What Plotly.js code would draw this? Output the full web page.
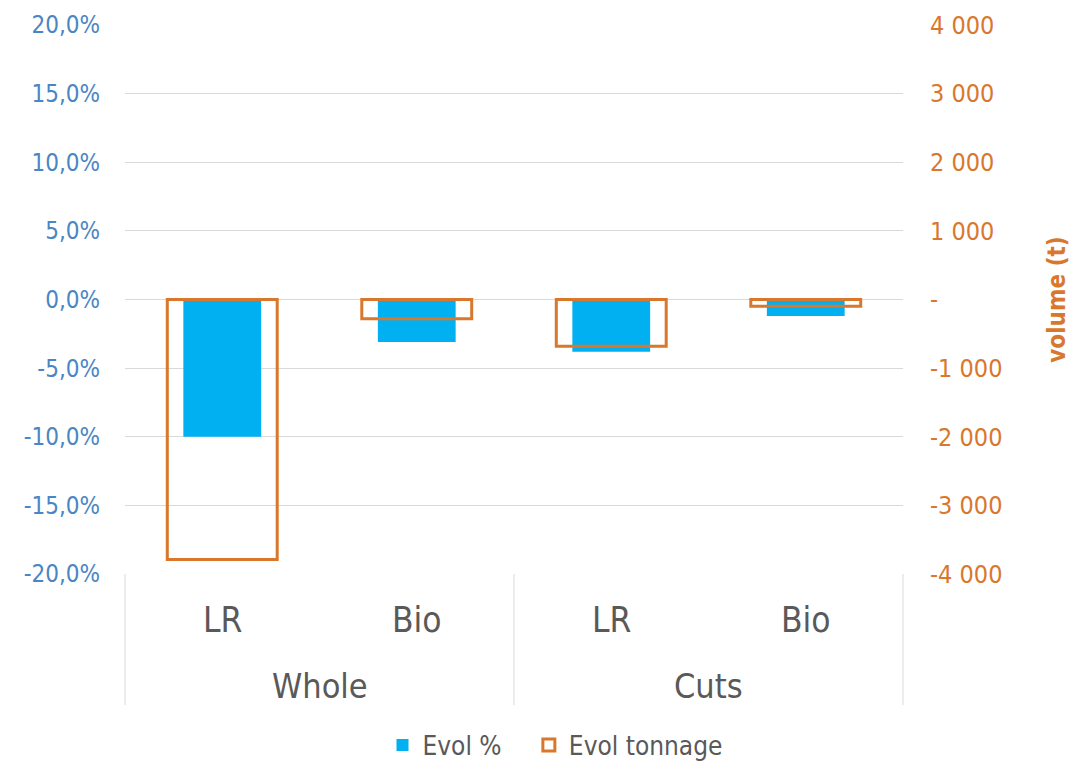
<!DOCTYPE html>
<html><head><meta charset="utf-8">
<script src="https://cdn.plot.ly/plotly-3.0.1.min.js"></script>
<style>html,body{margin:0;padding:0;background:#fff}#chart{width:1073px;height:761px}</style>
</head><body><div id="chart"></div>
<script>
const groups = ["Whole","Whole","Cuts","Cuts"];
const labels = ["LR","Bio","LR","Bio"];
const groupNames = ["Whole","Cuts"];
const seriesNames = ["Evol %", "Evol tonnage"];
const evolPct = [-10.0, -3.1, -3.8, -1.2];
const evolTonnage = [-3790, -280, -680, -100];
const leftTickVals = [-20,-15,-10,-5,0,5,10,15,20];
const leftTickText = ["-20,0%","-15,0%","-10,0%","-5,0%","0,0%","5,0%","10,0%","15,0%","20,0%"];
const rightTickVals = [-4000,-3000,-2000,-1000,0,1000,2000,3000,4000];
const rightTickText = ["-4 000","-3 000","-2 000","-1 000","-","1 000","2 000","3 000","4 000"];

const FONT = '"DejaVu Sans Condensed", "Liberation Sans Narrow", Roboto, "Liberation Sans", Arial, sans-serif';
const blue = '#00b0f0', orange = '#d9782d', grey = '#595959', gridc = '#d9d9d9';

const traces = [
  {type:'bar', name:seriesNames[0] + '\u00a0\u00a0\u00a0', x:[groups,labels], y:evolPct, yaxis:'y', width:0.40,
   marker:{color:blue, line:{width:0}}, hoverinfo:'y'},
  {type:'bar', name:seriesNames[1], x:[groups,labels], y:evolTonnage, yaxis:'y2', width:0.565,
   marker:{color:'rgba(0,0,0,0)', line:{color:orange, width:3}}, hoverinfo:'y'}
];

// plot area: 125..903 x, 25..574 y
const plotH = 549, plotW = 778;
const py = (px) => -(px - 574) / plotH;
const annotations = [];
const n = labels.length;
labels.forEach((t, i) => annotations.push({xref:'paper', yref:'paper', x:(i+0.5)/n, y:py(620),
  text:t, showarrow:false, xanchor:'center', yanchor:'middle', font:{size:35, color:grey, family:FONT}}));
groupNames.forEach((g, j) => annotations.push({xref:'paper', yref:'paper', x:(j+0.5)/groupNames.length, y:py(686),
  text:g, showarrow:false, xanchor:'center', yanchor:'middle', font:{size:34, color:grey, family:FONT}}));

const shapes = [0, 0.5, 1].map(xv => ({type:'line', xref:'paper', yref:'paper', x0:xv, x1:xv, y0:0, y1:py(705),
  line:{color:gridc, width:1}}));

const layout = {
  width:1073, height:761,
  margin:{l:125, r:170, t:25, b:187, autoexpand:false},
  paper_bgcolor:'#fff', plot_bgcolor:'#fff',
  barmode:'overlay',
  font:{family:FONT, color:grey},
  xaxis:{type:'multicategory', showgrid:false, zeroline:false, showline:false,
    showticklabels:false, ticks:'', showdividers:false},
  yaxis:{range:[-20,20], tickvals:leftTickVals, ticktext:leftTickText, showgrid:true,
    gridcolor:gridc, gridwidth:1, zeroline:false, showline:false,
    tickfont:{size:24, color:'#4a86c5', family:FONT}, ticks:'', ticklabelstandoff:24},
  yaxis2:{range:[-4000,4000], overlaying:'y', side:'right', tickvals:rightTickVals, ticktext:rightTickText,
    showgrid:false, zeroline:false, showline:false,
    tickfont:{size:25, color:orange, family:FONT}, ticks:'', ticklabelstandoff:26,
    title:{text:'<b>volume (t)</b>', font:{size:24, color:orange, family:FONT}, standoff:46}},
  annotations, shapes,
  showlegend:true,
  legend:{orientation:'h', x:(555-125)/plotW, xanchor:'center', y:py(745), yanchor:'middle',
    font:{size:26, color:grey, family:FONT}, itemwidth:30, traceorder:'normal'}
};
Plotly.newPlot('chart', traces, layout, {displayModeBar:false, staticPlot:true});
</script></body></html>
